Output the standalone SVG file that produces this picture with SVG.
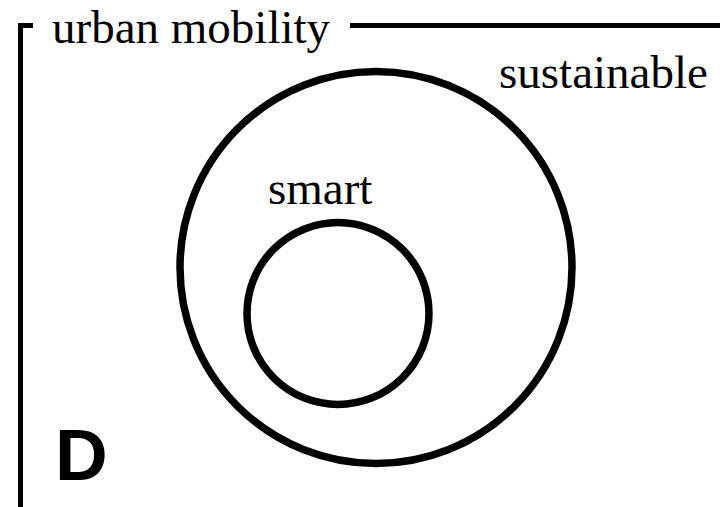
<svg xmlns="http://www.w3.org/2000/svg" width="720" height="507" viewBox="0 0 720 507">
<style>
.t{font-family:"Liberation Serif","Times New Roman",serif;font-size:47px;fill:#000}
.c{fill:none;stroke:#000;stroke-width:7.5}
.f{fill:none;stroke:#000;stroke-width:5}
</style>
<rect width="720" height="507" fill="#fff"/>
<g id="frame">
<polyline class="f" points="33,25.5 20.5,25.5 20.5,507"/>
<line class="f" x1="350" y1="25.5" x2="720" y2="25.5"/>
<text class="t" x="52" y="43">urban mobility</text>
</g>
<g id="sustainable">
<circle class="c" cx="376" cy="267.5" r="196"/>
<text class="t" x="499" y="88">sustainable</text>
</g>
<g id="smart">
<circle class="c" cx="338" cy="313.5" r="91"/>
<text class="t" x="268" y="204">smart</text>
</g>
<g id="label">
<text x="55" y="480" style="font-family:'Liberation Sans',Arial,sans-serif;font-weight:bold;font-size:73px">D</text>
</g>
<g id="connectors"/>
</svg>
